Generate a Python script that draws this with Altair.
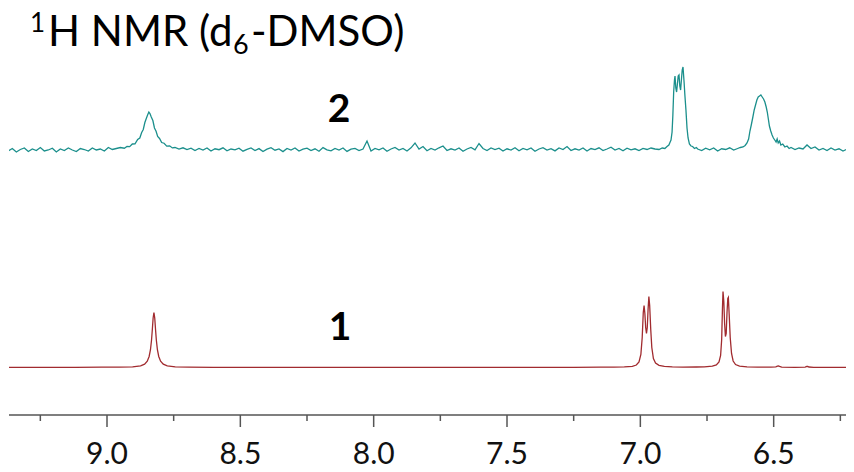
import altair as alt
import pandas as pd

# ---------------- text ----------------
TITLE_PARTS = ["1", "H NMR (d", "6", "-DMSO)"]
SPECTRUM_NAMES = ["1", "2"]
TICK_VALUES = [9.0, 8.5, 8.0, 7.5, 7.0, 6.5]
MINOR_TICKS = [9.25, 8.75, 8.25, 7.75, 7.25, 6.75, 6.25]

RED = "#a12b2f"
TEAL = "#1b8f8c"
AXIS_COLOR = "#555555"

# ---------------- spectrum 1 (red), [ppm, intensity] ----------------
S1_BASE_LEFT = [[9.37, 0.1], [9.25, 0.2], [9.12, 0.2], [9.02, 0.3]]
S1_PEAK_882 = [
    [8.954, 0.4], [8.904, 0.7], [8.874, 1.7], [8.859, 3.4], [8.849, 6.3], [8.842, 11],
    [8.837, 17.8], [8.833, 27.5], [8.830, 38], [8.827, 49.5], [8.824, 55], [8.821, 49.5],
    [8.818, 38], [8.815, 27.5], [8.811, 17.8], [8.806, 11], [8.799, 6.3], [8.789, 3.4],
    [8.774, 1.7], [8.744, 0.7], [8.694, 0.35],
]
S1_BASE_MID = [
    [8.60, 0.2], [8.45, 0.15], [8.30, 0.2], [8.15, 0.1], [8.00, 0.2], [7.85, 0.15],
    [7.70, 0.2], [7.55, 0.1], [7.40, 0.2], [7.25, 0.2], [7.15, 0.3], [7.10, 0.4],
]
S1_DOUBLET_698 = [
    [7.06, 0.6], [7.03, 1.2], [7.015, 2.5], [7.005, 5.5], [6.998, 13], [6.993, 30],
    [6.989, 55], [6.986, 62], [6.983, 54], [6.980, 40], [6.977, 34], [6.974, 40],
    [6.971, 58], [6.968, 71], [6.965, 62], [6.961, 38], [6.957, 20], [6.951, 9],
    [6.943, 4.5], [6.930, 2.2], [6.910, 1.1], [6.88, 0.6], [6.84, 0.4], [6.79, 0.5],
]
S1_DOUBLET_668 = [
    [6.76, 0.7], [6.73, 1.3], [6.715, 2.6], [6.705, 5.5], [6.699, 12], [6.695, 28],
    [6.692, 60], [6.690, 76], [6.687, 66], [6.684, 44], [6.681, 31], [6.678, 34],
    [6.675, 55], [6.672, 69], [6.670, 70], [6.667, 54], [6.663, 30], [6.658, 14],
    [6.652, 6.5], [6.643, 3], [6.628, 1.4], [6.60, 0.7], [6.56, 0.4],
]
S1_BASE_RIGHT = [
    [6.51, 0.4], [6.492, 0.6], [6.486, 1.3], [6.482, 1.6], [6.478, 1.1], [6.470, 0.4],
    [6.42, 0.2], [6.382, 0.4], [6.376, 1.0], [6.372, 1.1], [6.368, 0.5], [6.35, 0.2],
    [6.28, 0.1], [6.19, 0.1],
]

# ---------------- spectrum 2 (teal), [ppm, intensity] ----------------
S2_BASE_LEFT = [
    [9.370, -1], [9.355, 1.5], [9.340, -2], [9.325, 0.5], [9.310, 2], [9.295, -1.5],
    [9.280, 1], [9.265, -0.5], [9.250, 2.5], [9.235, -1], [9.220, 0], [9.205, 1.8],
    [9.190, -2], [9.175, 1], [9.160, -0.5], [9.145, 2], [9.130, 0], [9.115, -1.5],
    [9.100, 1.5], [9.085, 0.5], [9.070, -1], [9.055, 2], [9.040, 0], [9.025, 1],
    [9.010, -1], [8.995, 2.5], [8.980, 0.5], [8.965, 1.5], [8.950, 2.5], [8.935, 1.8],
]
S2_PEAK_884 = [
    [8.925, 3.5], [8.915, 3.3], [8.905, 6], [8.895, 6.2], [8.885, 10.5], [8.877, 12],
    [8.870, 17.5], [8.864, 20.5], [8.858, 27.5], [8.852, 32], [8.847, 35.5], [8.843, 38],
    [8.839, 36.5], [8.834, 33], [8.828, 29.5], [8.822, 22], [8.816, 18.8], [8.810, 13.5],
    [8.803, 11.5], [8.795, 7.5], [8.786, 6.8], [8.776, 3.9], [8.765, 4.2], [8.755, 2.1],
]
S2_BASE_MID = [
    [8.745, 2.5], [8.730, 1.0], [8.715, 2.2], [8.700, 0.5], [8.685, 1.8], [8.670, -0.5],
    [8.655, 1.5], [8.640, 0.0], [8.625, 2.0], [8.610, -1.0], [8.595, 1.2], [8.580, 0.3],
    [8.565, 2.2], [8.550, -0.8], [8.535, 1.0], [8.520, 0.2], [8.505, 1.8], [8.490, -1.2],
    [8.475, 0.6], [8.460, 2.0], [8.445, -0.5], [8.430, 1.4], [8.415, -1.5], [8.400, 0.8],
    [8.385, 2.3], [8.370, -0.2], [8.355, 1.0], [8.340, -1.6], [8.325, 1.5], [8.310, 0.0],
    [8.295, 2.0], [8.280, -1.0], [8.265, 0.8], [8.250, 1.9], [8.235, -0.6], [8.220, 1.2],
    [8.205, -1.2], [8.190, 2.4], [8.175, 0.2], [8.160, -0.8], [8.145, 1.5], [8.130, 0.0],
    [8.115, 2.0], [8.100, -1.4], [8.085, 0.9], [8.070, 1.6], [8.055, -0.5], [8.040, 1.0],
    [8.025, 9.0], [8.010, -1.0], [7.995, 1.5], [7.980, 0.2], [7.965, 2.0], [7.950, -1.2],
    [7.935, 1.0], [7.920, 2.5], [7.905, 0.0], [7.890, 1.6], [7.875, -1.0], [7.860, 2.2],
    [7.845, 7.0], [7.830, 1.0], [7.815, 3.5], [7.800, -0.8], [7.785, 1.5], [7.770, 0.0],
    [7.755, 2.2], [7.740, 4.0], [7.725, -0.5], [7.710, 1.2], [7.695, 0.0], [7.680, 2.0],
    [7.665, -1.3], [7.650, 1.0], [7.635, 2.5], [7.620, 0.2], [7.605, 6.5], [7.590, 1.5],
    [7.575, -0.5], [7.560, 2.0], [7.545, 0.5], [7.530, 1.8], [7.515, -1.0], [7.500, 1.2],
    [7.485, 0.0], [7.470, 2.2], [7.455, -0.8], [7.440, 1.5], [7.425, 0.2], [7.410, 2.0],
    [7.395, -1.2], [7.380, 1.0], [7.365, 2.4], [7.350, 0.0], [7.335, 1.4], [7.320, -0.9],
    [7.305, 2.0], [7.290, 0.5], [7.275, 3.5], [7.260, -0.5], [7.245, 1.2], [7.230, 0.0],
    [7.215, 2.0], [7.200, -1.0], [7.185, 1.5], [7.170, 0.4], [7.155, 2.2], [7.140, -0.6],
    [7.125, 1.0], [7.110, 2.8], [7.095, 0.0], [7.080, 1.5], [7.065, -0.8], [7.050, 1.8],
    [7.035, 0.2], [7.020, 1.2], [7.005, -0.5], [6.990, 1.6], [6.975, 0.5], [6.960, 2.0],
    [6.945, 1.0],
]
S2_MULTIPLET_686 = [
    [6.930, 0.5], [6.918, 2.0], [6.908, 1.5], [6.900, 3.5], [6.893, 5.0], [6.889, 7.5],
    [6.885, 10], [6.881, 18], [6.878, 35], [6.875, 58], [6.872, 70], [6.870, 74],
    [6.867, 62], [6.864, 58], [6.861, 66], [6.858, 74], [6.855, 75], [6.852, 64],
    [6.849, 60], [6.846, 70], [6.843, 80], [6.840, 83], [6.836, 68], [6.833, 55],
    [6.829, 40], [6.825, 22], [6.821, 12], [6.816, 6], [6.810, 4], [6.804, 3.5],
    [6.797, 1.5], [6.790, 2.5],
]
S2_BASE_GAP = [
    [6.785, 1.0], [6.770, -0.5], [6.755, 1.8], [6.740, 0.2], [6.725, 2.0], [6.710, -1.0],
    [6.695, 1.2], [6.680, 0.5], [6.665, 2.2], [6.650, 0.0], [6.635, 1.5],
]
S2_PEAK_655 = [
    [6.625, 2.5], [6.615, 3.0], [6.607, 4.5], [6.600, 7.0], [6.594, 11], [6.589, 19],
    [6.584, 25], [6.578, 33], [6.573, 40], [6.568, 45], [6.563, 50], [6.558, 53],
    [6.553, 54], [6.548, 55], [6.543, 53], [6.538, 51], [6.533, 48], [6.528, 43],
    [6.524, 38], [6.520, 31], [6.516, 24], [6.511, 19], [6.506, 15], [6.501, 12],
    [6.496, 10], [6.491, 8], [6.487, 11], [6.483, 7], [6.478, 9], [6.473, 5],
    [6.466, 6], [6.458, 3], [6.450, 4], [6.442, 1.5],
]
S2_BASE_RIGHT = [
    [6.435, 2.5], [6.420, 0.5], [6.405, 2.0], [6.390, 1.0], [6.375, 5.0], [6.360, 1.5],
    [6.345, 3.0], [6.330, 0.0], [6.315, 1.5], [6.300, -0.5], [6.285, 2.0], [6.270, 0.0],
    [6.255, 1.2], [6.240, -1.0], [6.225, 0.8], [6.210, 0.0], [6.195, 1.0],
]

S1 = S1_BASE_LEFT + S1_PEAK_882 + S1_BASE_MID + S1_DOUBLET_698 + S1_DOUBLET_668 + S1_BASE_RIGHT
S2 = (S2_BASE_LEFT + S2_PEAK_884 + S2_BASE_MID + S2_MULTIPLET_686 + S2_BASE_GAP
      + S2_PEAK_655 + S2_BASE_RIGHT)

# vertical stacking offsets of the two traces (layout)
OFFSET = {"1": 47.5, "2": 265.0}

rows = []
for name, trace in (("1", S1), ("2", S2)):
    for i, (ppm, val) in enumerate(trace):
        rows.append({"ppm": ppm, "y": val + OFFSET[name], "series": name, "idx": i})
df = pd.DataFrame(rows)

W, H = 837, 407
PX_PER_PPM = 266.67
LEFT_PPM = 9.3675
RIGHT_PPM = LEFT_PPM - W / PX_PER_PPM
xscale = alt.Scale(domain=[RIGHT_PPM, LEFT_PPM], reverse=True, nice=False, zero=False)
yscale = alt.Scale(domain=[0, H], nice=False, zero=False)

lines = alt.Chart(df).mark_line(strokeWidth=1.3, clip=True).encode(
    x=alt.X("ppm:Q", scale=xscale, axis=None),
    y=alt.Y("y:Q", scale=yscale, axis=None),
    color=alt.Color("series:N", scale=alt.Scale(domain=SPECTRUM_NAMES, range=[RED, TEAL]),
                    legend=None),
    order="idx:Q",
)

# hand-drawn axis: domain line, major ticks, minor ticks, labels
axis_line = alt.Chart(pd.DataFrame({"k": [0]})).mark_rule(
    color=AXIS_COLOR, strokeWidth=1.5).encode(
    x=alt.value(0), x2=alt.value(W), y=alt.value(H))

major = alt.Chart(pd.DataFrame({"ppm": TICK_VALUES})).mark_rule(
    color=AXIS_COLOR, strokeWidth=1.5).encode(
    x=alt.X("ppm:Q", scale=xscale, axis=None),
    y=alt.value(H), y2=alt.value(H + 12))

minor = alt.Chart(pd.DataFrame({"ppm": MINOR_TICKS})).mark_rule(
    color=AXIS_COLOR, strokeWidth=1.5).encode(
    x=alt.X("ppm:Q", scale=xscale, axis=None),
    y=alt.value(H), y2=alt.value(H + 6))

tick_labels = alt.Chart(pd.DataFrame({"ppm": TICK_VALUES})).mark_text(
    align="center", baseline="alphabetic", font="Lato", fontSize=30,
    color="#111111").encode(
    x=alt.X("ppm:Q", scale=xscale, axis=None),
    y=alt.value(H + 49),
    text=alt.Text("ppm:Q", format=".1f"))


def text_layer(t, size, x, y, weight="normal"):
    return alt.Chart(pd.DataFrame({"t": [t]})).mark_text(
        align="left", baseline="alphabetic", font="Lato", fontSize=size,
        fontWeight=weight, color="#000000").encode(
        text="t:N", x=alt.value(x), y=alt.value(y))


title_layers = [
    text_layer(TITLE_PARTS[0], 26, 21, 24),
    text_layer(TITLE_PARTS[1], 42, 39, 38),
    text_layer(TITLE_PARTS[2], 27, 224, 46),
    text_layer(TITLE_PARTS[3], 42, 242, 38),
]


def label_layer(t, ppm, yv):
    return alt.Chart(pd.DataFrame({"t": [t], "ppm": [ppm]})).mark_text(
        align="center", baseline="alphabetic", font="Lato", fontSize=39,
        fontWeight="bold", color="#000000").encode(
        text="t:N",
        x=alt.X("ppm:Q", scale=xscale, axis=None),
        y=alt.value(H - yv))


# label anchors (ppm, height above plot bottom)
labels = [label_layer(SPECTRUM_NAMES[0], 8.126, 75), label_layer(SPECTRUM_NAMES[1], 8.13, 293)]

chart = alt.layer(lines, axis_line, major, minor, tick_labels, *title_layers, *labels).properties(
    width=W, height=H,
    padding={"left": 1, "top": 0, "right": 0, "bottom": 56},
    autosize=alt.AutoSizeParams(type="none"),
).configure_view(strokeWidth=0)

chart.save("out.html", embed_options={"renderer": "svg", "actions": False})
